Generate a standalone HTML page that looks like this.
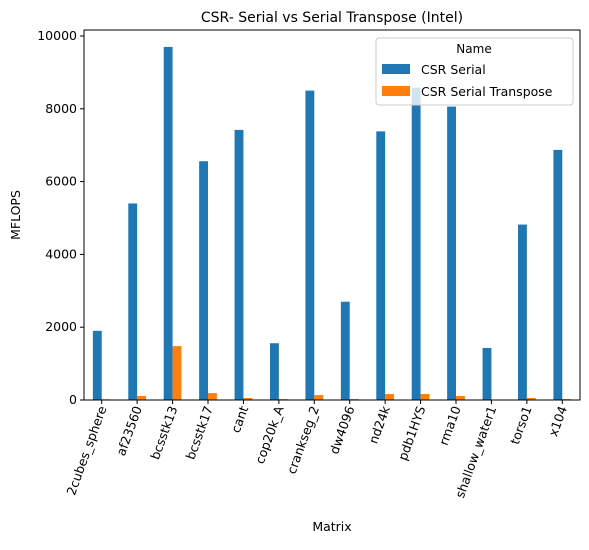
<!DOCTYPE html>
<html><head><meta charset="utf-8"><style>
body{margin:0;background:#fff;font-family:"Liberation Sans","DejaVu Sans",sans-serif}
</style></head><body>
<svg id="c" width="589" height="545" font-family="DejaVu Sans, Liberation Sans, sans-serif"></svg>
<script>
const categories=["2cubes_sphere","af23560","bcsstk13","bcsstk17","cant","cop20k_A","crankseg_2","dw4096","nd24k","pdb1HYS","rma10","shallow_water1","torso1","x104"];
const serialValues=[1900,5400,9700,6560,7420,1560,8500,2700,7380,8580,8060,1430,4820,6870];
const transposeValues=[20,110,1480,190,55,25,135,25,165,165,110,0,55,25];
const yTicks=[0,2000,4000,6000,8000,10000];
const L=84,R=580,T=30,B=400;
const ns="http://www.w3.org/2000/svg";
const svg=document.getElementById('c');
function y(v){return B-v*(364/10000);}
const step=(R-L)/categories.length;
function xc(i){return L+step*(i+0.5);}
function el(t,a,txt){const e=document.createElementNS(ns,t);for(const k in a)e.setAttribute(k,a[k]);if(txt!==undefined)e.textContent=txt;svg.appendChild(e);return e;}
const bw=step*0.25;
categories.forEach((c,i)=>{
 let r=el('rect',{x:xc(i)-bw,y:y(serialValues[i]),width:bw,height:B-y(serialValues[i]),fill:'#1f77b4'});
 
 
 let o=el('rect',{x:xc(i),y:y(transposeValues[i]),width:bw,height:B-y(transposeValues[i]),fill:'#ff7f0e'});
 
 
 el('line',{x1:xc(i),x2:xc(i),y1:B,y2:B+4,stroke:'#000'});
 let t=el('text',{x:0,y:0,'font-size':12.5,'text-anchor':'end',transform:`translate(${xc(i)+5},${B+8}) rotate(-70)`},c);
 
 
});
yTicks.forEach(v=>{
 el('line',{x1:L-4,x2:L,y1:y(v),y2:y(v),stroke:'#000'});
 let t=el('text',{x:L-7,y:y(v)+4,'font-size':12.5,'text-anchor':'end'},v);
 
 
});
let ax=el('rect',{x:L,y:T,width:R-L,height:B-T,fill:'none',stroke:'#000','stroke-width':1});


let tt=el('text',{x:(L+R)/2,y:22,'font-size':14,'text-anchor':'middle'},'CSR- Serial vs Serial Transpose (Intel)');


let xt=el('text',{x:(L+R)/2,y:531,'font-size':12.5,'text-anchor':'middle'},'Matrix');


let yt=el('text',{x:0,y:0,'font-size':12.5,'text-anchor':'middle',transform:`translate(20,${(T+B)/2}) rotate(-90)`},'MFLOPS');


let lg=el('rect',{x:376,y:38,width:197,height:67,rx:3,fill:'#fff','fill-opacity':0.8,stroke:'#ccc'});


el('text',{x:474,y:53,'font-size':12,'text-anchor':'middle'},'Name');
el('rect',{x:382,y:64,width:28,height:10,fill:'#1f77b4'});
let l1=el('text',{x:421,y:74,'font-size':12.5},'CSR Serial');


el('rect',{x:382,y:86,width:28,height:10,fill:'#ff7f0e'});
let l2=el('text',{x:421,y:96,'font-size':12.5},'CSR Serial Transpose');


</script>
</body></html>
